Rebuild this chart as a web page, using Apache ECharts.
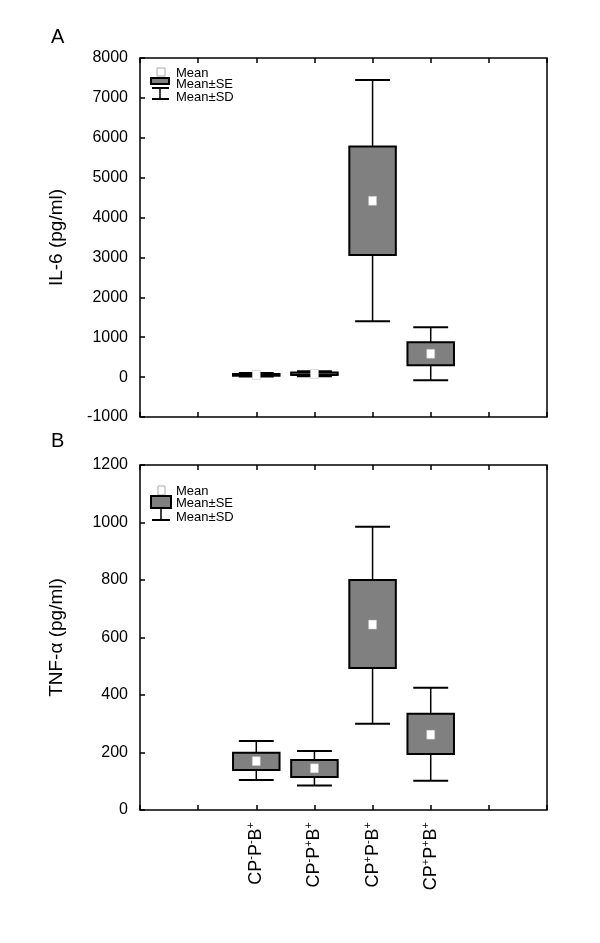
<!DOCTYPE html>
<html>
<head>
<meta charset="utf-8">
<script src="https://cdn.jsdelivr.net/npm/echarts@6/dist/echarts.min.js"></script>
<style>html,body{margin:0;padding:0;background:#fff}#c{width:600px;height:943px}</style>
</head>
<body>
<div id="c"></div>
<script>
// Category positions (x slots 0..7, data at 2..5)
const categories = ['CP-P-B+', 'CP-P+B+', 'CP+P-B+', 'CP+P+B+'];
const catPos = [2, 3, 4, 5];
// Panel A: IL-6 (pg/ml)
const il6Mean = [55, 80, 4420, 585];
const il6SeLo = [35, 50, 3060, 295];
const il6SeHi = [80, 115, 5780, 875];
const il6SdLo = [15, 20, 1400, -80];
const il6SdHi = [100, 145, 7450, 1250];
// Panel B: TNF-α (pg/ml)
const tnfMean = [170, 145, 645, 262];
const tnfSeLo = [139, 115, 494, 195];
const tnfSeHi = [199, 174, 800, 335];
const tnfSdLo = [104, 85, 300, 102];
const tnfSdHi = [240, 205, 985, 425];

const FONT = "'Liberation Sans', Arial, sans-serif";

function build(mean, seLo, seHi, sdLo, sdHi) {
  return catPos.map((x, i) => [x, mean[i], seLo[i], seHi[i], sdLo[i], sdHi[i]]);
}

function renderBox(params, api) {
  const x = api.value(0);
  const m = api.coord([x, api.value(1)]);
  const sl = api.coord([x, api.value(2)]);
  const sh = api.coord([x, api.value(3)]);
  const dl = api.coord([x, api.value(4)]);
  const dh = api.coord([x, api.value(5)]);
  const boxW = api.size([0.8, 0])[0];
  const capW = api.size([0.6, 0])[0];
  const cx = m[0];
  const line = (x1, y1, x2, y2, w) => ({
    type: 'line', shape: {x1, y1, x2, y2},
    style: {stroke: '#000', lineWidth: w}
  });
  return {
    type: 'group',
    children: [
      line(cx, sl[1], cx, dl[1], 1.5),
      line(cx, sh[1], cx, dh[1], 1.5),
      line(cx - capW / 2, dl[1], cx + capW / 2, dl[1], 2),
      line(cx - capW / 2, dh[1], cx + capW / 2, dh[1], 2),
      {type: 'rect', shape: {x: cx - boxW / 2, y: sh[1], width: boxW, height: Math.max(sl[1] - sh[1], 1)},
       style: {fill: '#808080', stroke: '#000', lineWidth: 2}},
      {type: 'rect', shape: {x: cx - 4, y: m[1] - 4.5, width: 8, height: 9},
       style: {fill: '#fff', stroke: '#bbb', lineWidth: 0.5}}
    ]
  };
}

function labelFmt(v) {
  const idx = catPos.indexOf(v);
  if (idx < 0) return '';
  const m = categories[idx].match(/^CP([+-])P([+-])B([+-])$/);
  return '{n|CP}{s|' + m[1] + '}{n|P}{s|' + m[2] + '}{n|B}{s|' + m[3] + '}';
}

const grids = [
  {left: 140, right: 53, top: 58, height: 359},
  {left: 140, right: 53, top: 465, height: 345}
];

function xAxes(gi) {
  const base = {gridIndex: gi, type: 'value', min: 0, max: 7, interval: 1,
    axisLine: {show: false, onZero: false}, splitLine: {show: false},
    axisTick: {show: true, inside: true, length: 5, lineStyle: {color: '#000', width: 1.5}}};
  return [
    Object.assign({}, base, {position: 'bottom',
      axisLabel: gi === 1 ? {show: true, rotate: 90, margin: 12, formatter: labelFmt, color: '#000',
        rich: {
          n: {fontSize: 18, fontFamily: FONT, color: '#000', lineHeight: 21},
          s: {fontSize: 11, fontFamily: FONT, color: '#000', lineHeight: 21, verticalAlign: 'top'}
        }} : {show: false}}),
    Object.assign({}, base, {position: 'top', axisLabel: {show: false}})
  ];
}

function yAxis(gi, min, max, interval, name) {
  return {gridIndex: gi, type: 'value', min, max, interval,
    name, nameLocation: 'middle', nameGap: 74, nameRotate: 90,
    nameTextStyle: {fontSize: 19, fontFamily: FONT, color: '#000'},
    axisLine: {show: false, onZero: false}, splitLine: {show: false},
    axisTick: {show: true, inside: true, length: 5, lineStyle: {color: '#000', width: 1.5}},
    axisLabel: {fontSize: 16, fontFamily: FONT, color: '#000', margin: 12, formatter: v => String(v)}};
}

function legend(x0, y0, joined) {
  const t = (txt, y) => ({type: 'text', left: x0 + 25, top: y - 5,
    style: {text: txt, fontSize: 13, fontFamily: FONT, fill: '#000'}});
  const els = [];
  if (!joined) {
    els.push({type: 'rect', shape: {x: x0 + 6, y: y0 - 4, width: 8, height: 8}, style: {fill: '#fff', stroke: '#aaa', lineWidth: 1}});
    els.push({type: 'rect', shape: {x: x0, y: y0 + 6, width: 18, height: 6}, style: {fill: '#808080', stroke: '#000', lineWidth: 2}});
    els.push({type: 'line', shape: {x1: x0 + 1, y1: y0 + 16, x2: x0 + 18, y2: y0 + 16}, style: {stroke: '#000', lineWidth: 2}});
    els.push({type: 'line', shape: {x1: x0 + 9, y1: y0 + 16, x2: x0 + 9, y2: y0 + 27}, style: {stroke: '#000', lineWidth: 1.5}});
    els.push({type: 'line', shape: {x1: x0 + 1, y1: y0 + 27, x2: x0 + 18, y2: y0 + 27}, style: {stroke: '#000', lineWidth: 2}});
    els.push(t('Mean', y0), t('Mean±SE', y0 + 11), t('Mean±SD', y0 + 24));
  } else {
    els.push({type: 'rect', shape: {x: x0 + 7, y: y0 - 4, width: 7, height: 9}, style: {fill: '#fff', stroke: '#aaa', lineWidth: 1}});
    els.push({type: 'line', shape: {x1: x0 + 10, y1: y0 + 18, x2: x0 + 10, y2: y0 + 30}, style: {stroke: '#000', lineWidth: 1.5}});
    els.push({type: 'line', shape: {x1: x0 + 1, y1: y0 + 30, x2: x0 + 19, y2: y0 + 30}, style: {stroke: '#000', lineWidth: 2}});
    els.push({type: 'rect', shape: {x: x0, y: y0 + 6, width: 20, height: 12}, style: {fill: '#808080', stroke: '#000', lineWidth: 2}});
    els.push(t('Mean', y0), t('Mean±SE', y0 + 12), t('Mean±SD', y0 + 26));
  }
  return els;
}

const chart = echarts.init(document.getElementById('c'), null, {renderer: 'canvas'});
chart.setOption({
  backgroundColor: '#fff',
  animation: false,
  grid: grids.map(g => Object.assign({show: true, borderColor: '#000', borderWidth: 1.5, backgroundColor: 'transparent'}, g)),
  xAxis: [...xAxes(0), ...xAxes(1)],
  yAxis: [
    yAxis(0, -1000, 8000, 1000, 'IL-6 (pg/ml)'),
    yAxis(1, 0, 1200, 200, 'TNF-α (pg/ml)')
  ],
  graphic: [
    {type: 'text', left: 51, top: 27, style: {text: 'A', fontSize: 20, fontFamily: FONT, fill: '#000'}},
    {type: 'text', left: 51, top: 431, style: {text: 'B', fontSize: 20, fontFamily: FONT, fill: '#000'}},
    ...legend(151, 72, false),
    ...legend(151, 490, true)
  ],
  series: [
    {type: 'custom', xAxisIndex: 0, yAxisIndex: 0, renderItem: renderBox,
     encode: {x: 0, y: [1, 2, 3, 4, 5]}, data: build(il6Mean, il6SeLo, il6SeHi, il6SdLo, il6SdHi)},
    {type: 'custom', xAxisIndex: 2, yAxisIndex: 1, renderItem: renderBox,
     encode: {x: 0, y: [1, 2, 3, 4, 5]}, data: build(tnfMean, tnfSeLo, tnfSeHi, tnfSdLo, tnfSdHi)}
  ]
});
</script>
</body>
</html>
